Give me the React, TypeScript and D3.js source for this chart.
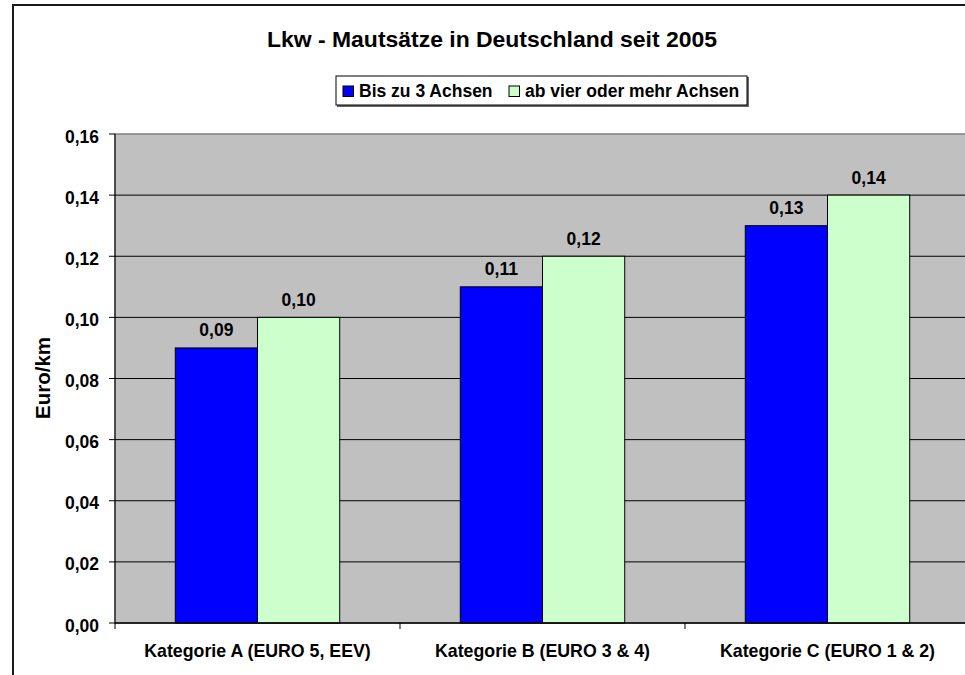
import React from "react";
import * as d3 from "d3";

const categories = ["Kategorie A (EURO 5, EEV)", "Kategorie B (EURO 3 & 4)", "Kategorie C (EURO 1 & 2)"];
const seriesNames = ["Bis zu 3 Achsen", "ab vier oder mehr Achsen"];
const seriesColors = ["#0000FF", "#CCFFCC"];
const bis3 = [0.09, 0.11, 0.13];
const ab4 = [0.1, 0.12, 0.14];
const yTicks = [0, 0.02, 0.04, 0.06, 0.08, 0.1, 0.12, 0.14, 0.16];
const title = "Lkw - Mautsätze in Deutschland seit 2005";
const yTitle = "Euro/km";

const W = 965;
const H = 675;
const plot = { left: 115, top: 134, right: 970, bottom: 623 };
const font = "'Liberation Sans', Arial, Helvetica, sans-serif";
const fmt = (v: number) => v.toFixed(2).replace(".", ",");

export default function App() {
  const series = [bis3, ab4];
  const x = d3.scaleBand<string>().domain(categories).range([plot.left, plot.right]).paddingInner(0).paddingOuter(0);
  const y = d3.scaleLinear().domain([0, 0.16]).range([plot.bottom, plot.top]);
  const bw = x.bandwidth();
  const barW = bw * 0.2885;
  const xs = d3.scaleBand<number>().domain([0, 1]).range([-barW, barW]);
  const legendX = [343, 509];

  return (
    <svg width={W} height={H} style={{ position: "absolute", left: 0, top: 0, background: "#fff" }}>
      <rect x={13} y={5} width={W + 20} height={H + 20} fill="#fff" stroke="#1a1a1a" strokeWidth={2} />
      <text x={492} y={47} textAnchor="middle" fontFamily={font} fontWeight="bold" fontSize={21.5} textLength={450} lengthAdjust="spacingAndGlyphs">
        {title}
      </text>
      {/* legend */}
      <g>
        <rect x={337} y={77} width={412} height={30} fill="#666" />
        <rect x={336} y={76} width={411} height={29} fill="#fff" stroke="#000" strokeWidth={1} />
        {seriesNames.map((n, i) => (
          <g key={n}>
            <rect x={legendX[i]} y={86} width={10.5} height={10.5} fill={seriesColors[i]} stroke="#000" strokeWidth={1} />
            <text x={legendX[i] + 16} y={97} fontFamily={font} fontWeight="bold" fontSize={17.5}>
              {n}
            </text>
          </g>
        ))}
      </g>
      {/* plot */}
      <rect x={plot.left} y={plot.top} width={plot.right - plot.left} height={plot.bottom - plot.top} fill="#C0C0C0" stroke="#808080" strokeWidth={1.5} />
      {yTicks.map((t) => (
        <g key={t}>
          {t > 0 && t < 0.16 && <line x1={plot.left} x2={plot.right} y1={y(t)} y2={y(t)} stroke="#000" strokeWidth={1} />}
          <line x1={109} x2={plot.left} y1={y(t)} y2={y(t)} stroke="#000" strokeWidth={1} />
          <text x={99} y={y(t) + 8.5} textAnchor="end" fontFamily={font} fontWeight="bold" fontSize={17.5}>
            {fmt(t)}
          </text>
        </g>
      ))}
      {categories.map((c, ci) => (
        <g key={c}>
          {series.map((s, si) => {
            const cx = (x(c) as number) + bw / 2;
            const bx = cx + (xs(si) as number);
            return (
              <g key={si}>
                <rect x={bx} y={y(s[ci])} width={xs.bandwidth()} height={y(0) - y(s[ci])} fill={seriesColors[si]} stroke="#000" strokeWidth={1} />
                <text x={bx + xs.bandwidth() / 2} y={y(s[ci]) - 11.5} textAnchor="middle" fontFamily={font} fontWeight="bold" fontSize={17.5}>
                  {fmt(s[ci])}
                </text>
              </g>
            );
          })}
          <line x1={x(c) as number} x2={x(c) as number} y1={plot.bottom} y2={plot.bottom + 6} stroke="#000" />
          <text x={(x(c) as number) + bw / 2} y={657} textAnchor="middle" fontFamily={font} fontWeight="bold" fontSize={17.75}>
            {c}
          </text>
        </g>
      ))}
      <line x1={plot.left} x2={plot.right} y1={plot.bottom} y2={plot.bottom} stroke="#000" strokeWidth={1.5} />
      <line x1={plot.left} x2={plot.left} y1={plot.top} y2={plot.bottom} stroke="#000" strokeWidth={1} />
      <text transform={`translate(50,378) rotate(-90)`} textAnchor="middle" fontFamily={font} fontWeight="bold" fontSize={20.5}>
        {yTitle}
      </text>
    </svg>
  );
}
